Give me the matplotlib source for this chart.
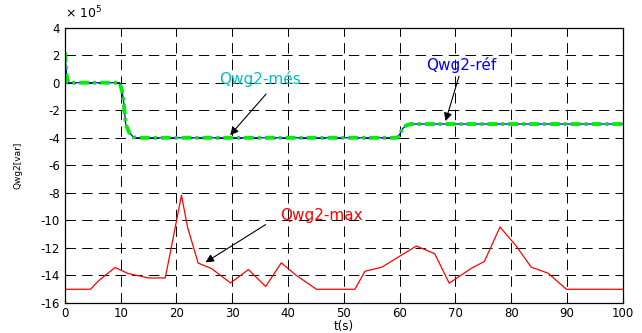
import numpy as np
import matplotlib.pyplot as plt

plt.rcParams['font.family'] = ['DejaVu Sans']
plt.rcParams['lines.scale_dashes'] = False

# courbes (valeurs en 1e5 var)
t_ref = [0, 0.3, 0.6, 9.8, 10.2, 10.5, 10.9, 11.5, 12.3, 13, 59.6, 60.0, 60.5, 61.2, 62.0, 63, 100]
q_ref = [2.2, 0.6, 0, 0, -0.5, -1.2, -3.0, -3.6, -3.95, -4, -4, -3.75, -3.35, -3.1, -3.0, -3, -3]

t_mes = t_ref
q_mes = q_ref

t_max = [0, 0.05, 4.6, 6.0, 9.0, 11.3, 15.0, 18.0, 19.4, 20.9, 22.0, 23.9, 26.3, 29.7,
         32.9, 36.0, 38.8, 41.5, 45.1, 52.0, 53.8, 56.8, 63.0, 66.3, 68.9, 72.9,
         75.2, 78.0, 80.9, 83.6, 86.6, 89.9, 100]
q_max = [-3.0, -15, -15, -14.4, -13.42, -13.85, -14.18, -14.18, -11.3, -8.17, -10.5, -13.1, -13.5, -14.54,
         -13.57, -14.8, -13.08, -14.0, -15, -15, -13.69, -13.4, -11.86, -12.42, -14.56, -13.47,
         -12.98, -10.48, -11.86, -13.4, -13.83, -15, -15]

xticks = [0, 10, 20, 30, 40, 50, 60, 70, 80, 90, 100]
yticks = [4, 2, 0, -2, -4, -6, -8, -10, -12, -14, -16]

fig = plt.figure(figsize=(6.42, 3.33), dpi=100)
ax = fig.add_axes([0.101, 0.090, 0.869, 0.827])

ax.plot(t_max, q_max, color='red', lw=0.9)
ax.plot(t_ref, q_ref, color='blue', lw=0.9)
ax.plot(t_mes, q_mes, color='#00ee00', lw=2.8, linestyle=(0, (7, 3, 2, 3)))

ax.set_xlim(0, 100)
ax.set_ylim(-16, 4)
ax.set_xticks(xticks)
ax.set_yticks(yticks)
ax.set_yticklabels([str(v) for v in yticks])
ax.tick_params(direction='in', labelsize=8.5, length=3)
ax.tick_params(axis='x', pad=2.5)
ax.grid(True, color='black', lw=0.7, linestyle=(0, (7.5, 4.5)))
for s in ax.spines.values():
    s.set_linewidth(0.9)

ax.set_xlabel('t(s)', fontsize=8.5, labelpad=0)
ax.set_ylabel('Qwg2[var]', fontsize=6.5, labelpad=13)
fig.text(0.101, 0.935, '× 10$^5$', fontsize=9, ha='left', va='bottom')

arr = dict(arrowstyle='-|>', color='black', lw=0.8, mutation_scale=12)

ax.annotate('', xy=(29.3, -3.96), xytext=(36.4, -0.67), arrowprops=arr)
ax.text(34.9, 0.3, 'Qwg2-més', color='#00c0c0', fontsize=11, ha='center', va='center')

ax.annotate('', xy=(68.1, -2.98), xytext=(70.8, 0.67), arrowprops=arr)
ax.text(71.1, 1.28, 'Qwg2-réf', color='blue', fontsize=11, ha='center', va='center')

ax.annotate('', xy=(24.8, -13.15), xytext=(36.4, -10.2), arrowprops=arr)
ax.text(46.0, -9.63, 'Qwg2-max', color='red', fontsize=11, ha='center', va='center')

fig.savefig('out.png', dpi=100)
